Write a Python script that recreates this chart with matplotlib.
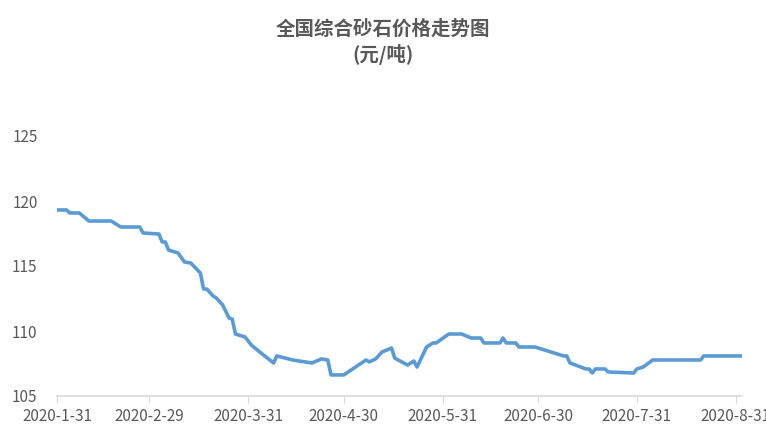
import matplotlib
matplotlib.use("Agg")
import matplotlib.pyplot as plt
import numpy as np
import pandas as pd

plt.rcParams['font.family'] = ['Noto Sans CJK SC', 'DejaVu Sans']

start = "2020-01-31"
day_offsets = [0,3,4,7,10,17,18,20,26,27,32,33,34,35,38,40,42,45,46,47,49,50,52,54,55,56,59,61,64,68,69,74,80,83,85,86,90,
               97,98,100,102,105,106,110,112,113,116,118,119,123,127,130,133,134,139,140,141,144,145,150,159,160,161,166,167,
               168,169,172,173,181,182,184,187,202,203,215]
prices = [119.31,119.31,119.08,119.08,118.46,118.46,118.31,118.0,118.0,117.54,117.46,116.85,116.85,116.23,116.0,115.31,115.23,
          114.46,113.23,113.23,112.69,112.54,112.0,111.0,110.92,109.77,109.54,108.92,108.31,107.54,108.08,107.77,107.54,107.85,
          107.77,106.62,106.62,107.77,107.62,107.85,108.38,108.69,107.92,107.38,107.69,107.23,108.77,109.08,109.08,109.77,109.77,
          109.46,109.46,109.08,109.08,109.46,109.08,109.08,108.77,108.77,108.08,108.08,107.54,107.08,107.08,106.77,107.08,107.08,
          106.85,106.77,107.08,107.23,107.77,107.77,108.08,108.08]
tick_dates = ["2020-01-31","2020-02-29","2020-03-31","2020-04-30","2020-05-31","2020-06-30","2020-07-31","2020-08-31"]
tick_labels = ["2020-1-31","2020-2-29","2020-3-31","2020-4-30","2020-5-31","2020-6-30","2020-7-31","2020-8-31"]
y_ticks = [105,110,115,120,125]

dates = pd.Timestamp(start) + pd.to_timedelta(day_offsets, unit="D")

fig = plt.figure(figsize=(7.66,4.46), dpi=100)
ax = fig.add_axes([57/766, 50/446, 685/766, 325/446])
ax.plot(dates, prices, color="#5b9bd5", lw=2.6, solid_joinstyle="round")
ax.set_xlim(pd.Timestamp(start), pd.Timestamp(start) + pd.Timedelta(days=215))
ax.set_ylim(105,130)
ax.set_yticks(y_ticks)
ax.set_xticks(pd.to_datetime(tick_dates))
ax.set_xticklabels(tick_labels)
for s in ["top","right","left"]:
    ax.spines[s].set_visible(False)
ax.spines["bottom"].set_color("#d9d9d9")
ax.spines["bottom"].set_linewidth(1.2)
ax.tick_params(axis="y", length=0, labelsize=11, labelcolor="#595959", pad=14)
ax.tick_params(axis="x", length=5, color="#d9d9d9", labelsize=11, labelcolor="#595959")
fig.text(0.5, 0.905, "全国综合砂石价格走势图\n(元/吨)", ha="center", va="center",
         fontsize=14, fontweight="bold", color="#595959", linespacing=1.3)
fig.savefig("out.png", dpi=100)
